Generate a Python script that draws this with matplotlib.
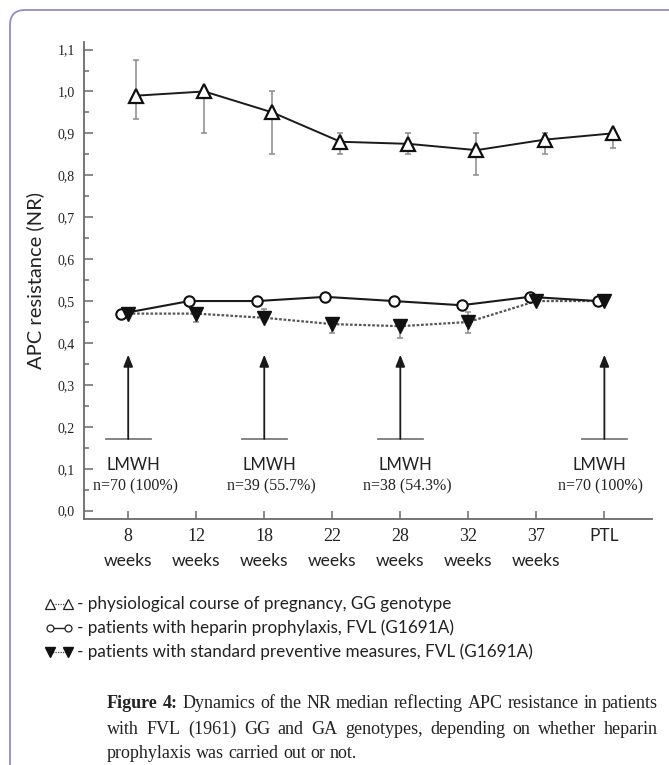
import matplotlib
matplotlib.use('Agg')
import matplotlib.pyplot as plt
from matplotlib.patches import FancyBboxPatch
from matplotlib.lines import Line2D
from matplotlib.ticker import MultipleLocator, FuncFormatter
import matplotlib.transforms as mtransforms

# ---------------- data ----------------
categories = ['8', '12', '18', '22', '28', '32', '37', 'PTL']
week_labels = ['weeks', 'weeks', 'weeks', 'weeks', 'weeks', 'weeks', 'weeks', '']

physio = [0.99, 1.00, 0.95, 0.88, 0.875, 0.86, 0.885, 0.90]
physio_lo = [0.935, 0.90, 0.85, 0.85, 0.85, 0.80, 0.85, 0.865]
physio_hi = [1.075, 1.00, 1.00, 0.90, 0.90, 0.90, 0.90, 0.90]

heparin = [0.47, 0.50, 0.50, 0.51, 0.50, 0.49, 0.51, 0.50]

standard = [0.47, 0.47, 0.46, 0.445, 0.44, 0.45, 0.50, 0.50]
standard_lo = [0.47, 0.45, 0.46, 0.423, 0.411, 0.423, 0.50, 0.50]
standard_hi = [0.47, 0.47, 0.48, 0.445, 0.44, 0.475, 0.50, 0.50]

lmwh_index = [0, 2, 4, 7]
lmwh_label = 'LMWH'
lmwh_counts = ['n=70 (100%)', 'n=39 (55.7%)', 'n=38 (54.3%)', 'n=70 (100%)']
arrow_base = 0.171
arrow_tip = 0.372

legend_texts = ['- physiological course of pregnancy, GG genotype',
                '- patients with heparin prophylaxis, FVL (G1691A)',
                '- patients with standard preventive measures, FVL (G1691A)']
caption_lines = [
    [('Figure', True), ('4:', True), ('Dynamics', False), ('of', False), ('the', False), ('NR', False),
     ('median', False), ('reflecting', False), ('APC', False), ('resistance', False), ('in', False),
     ('patients', False)],
    [('with', False), ('FVL', False), ('(1961)', False), ('GG', False), ('and', False), ('GA', False),
     ('genotypes,', False), ('depending', False), ('on', False), ('whether', False), ('heparin', False)],
    [('prophylaxis', False), ('was', False), ('carried', False), ('out', False), ('or', False), ('not.', False)],
]

SANS = ['Lato', 'DejaVu Sans']
SERIF = ['Liberation Serif', 'DejaVu Serif']

W, H = 669, 765
fig = plt.figure(figsize=(W / 100, H / 100), dpi=100)
fig.patch.set_facecolor('white')

def fx(px):
    return px / W

def fy(py):
    return 1 - py / H

ax_left, ax_right, ax_top, ax_bottom = 84, 652, 42, 519
ax = fig.add_axes([fx(ax_left), fy(ax_bottom), (ax_right - ax_left) / W, (ax_bottom - ax_top) / H])

x = list(range(len(categories)))
off_up = 0.12
off_circ = -0.10

# error bars physio
xp = [i + off_up for i in x]
ax.errorbar(xp, physio, yerr=[[v - l for v, l in zip(physio, physio_lo)],
                              [h - v for v, h in zip(physio, physio_hi)]],
            fmt='none', ecolor='#8a8a8a', elinewidth=1.1, capsize=2.3, capthick=1.1, zorder=2)
ax.plot(xp, physio, color='#1a1a1a', lw=1.4, marker='^', ms=10.5, mfc='white', mec='#111', mew=1.6, zorder=4)

# standard series
idx = [i for i in x if standard_lo[i] < standard[i] or standard_hi[i] > standard[i]]
ax.errorbar([x[i] for i in idx], [standard[i] for i in idx],
            yerr=[[standard[i] - standard_lo[i] for i in idx], [standard_hi[i] - standard[i] for i in idx]],
            fmt='none', ecolor='#8a8a8a', elinewidth=1.1, capsize=2.3, capthick=1.1, zorder=2)
ax.plot(x, standard, color='#555555', lw=1.6, ls=(0, (1.2, 0.8)), zorder=3)
ax.plot(x, standard, ls='none', marker='v', ms=10, mfc='#111', mec='#111', zorder=5)

# heparin series
xc = [i + off_circ for i in x]
ax.plot(xc, heparin, color='#1a1a1a', lw=1.5, marker='o', ms=7.5, mfc='white', mec='#111', mew=1.5, zorder=4)

# arrows + LMWH
for k, i in enumerate(lmwh_index):
    ax.plot([i - 0.33, i + 0.33], [arrow_base, arrow_base], color='#7a7a7a', lw=1.3, zorder=2)
    ax.annotate('', xy=(i, arrow_tip), xytext=(i, arrow_base),
                arrowprops=dict(arrowstyle='-|>,head_length=0.7,head_width=0.28', color='#1a1a1a', lw=1.3,
                                shrinkA=0, shrinkB=0))
    ax.text(i + 0.08 if k < 3 else i - 0.08, 0.11, lmwh_label, ha='center', va='center',
            family=SANS, fontsize=12, color='#222')
    ax.text(i + 0.1 if k < 3 else i - 0.05, 0.058, lmwh_counts[k], ha='center', va='center',
            family=SERIF, fontsize=11.5, color='#222')

ax.set_xlim(-0.65, 7.7)
ax.set_ylim(-0.02, 1.118)
for s in ['top', 'right']:
    ax.spines[s].set_visible(False)
for s in ['left', 'bottom']:
    ax.spines[s].set_color('#6a6a6a')
    ax.spines[s].set_linewidth(1.3)

ax.yaxis.set_major_locator(MultipleLocator(0.1))
ax.yaxis.set_minor_locator(MultipleLocator(0.05))
ax.yaxis.set_major_formatter(FuncFormatter(lambda v, p: f'{v:.1f}'.replace('.', ',')))
ax.tick_params(axis='y', which='major', direction='in', length=6.5, width=1.1, color='#6a6a6a',
               pad=6.5, labelsize=10)
ax.tick_params(axis='y', which='minor', direction='in', length=3.6, width=1.1, color='#6a6a6a')
for lab in ax.get_yticklabels():
    lab.set_family(SERIF)
    lab.set_color('#222')

ax.set_xticks(x)
ax.set_xticklabels(categories)
ax.tick_params(axis='x', direction='in', length=6, width=1.1, color='#6a6a6a', pad=6.5, labelsize=13)
for lab, c in zip(ax.get_xticklabels(), categories):
    lab.set_family(SANS if c == 'PTL' else SERIF)
    lab.set_color('#222')
    if c == 'PTL':
        lab.set_fontsize(12.5)

trans = mtransforms.blended_transform_factory(ax.transData, fig.transFigure)
for i, w in zip(x, week_labels):
    if w:
        ax.text(i, fy(561), w, transform=trans, ha='center', va='center', family=SANS, fontsize=12.5,
                color='#222')

ax.set_ylabel('APC resistance (NR)', family=SANS, fontsize=14.5, color='#222')
ax.yaxis.set_label_coords((35 - ax_left) / (ax_right - ax_left), 0.5)
ax.yaxis.label.set_va('center')

# legend rows
leg_y = [604, 628, 652]
sym_x0, sym_x1 = 50, 68
fig.add_artist(Line2D([fx(sym_x0), fx(sym_x1)], [fy(leg_y[0])] * 2, color='#444', lw=0.9, ls=(0, (1, 1)),
                      marker='^', ms=6.5, mfc='white', mec='#222', mew=0.9))
fig.add_artist(Line2D([fx(sym_x0), fx(sym_x1)], [fy(leg_y[1])] * 2, color='#222', lw=1.0,
                      marker='o', ms=5, mfc='white', mec='#222', mew=0.9))
fig.add_artist(Line2D([fx(sym_x0), fx(sym_x1)], [fy(leg_y[2])] * 2, color='#444', lw=0.9, ls=(0, (1, 1)),
                      marker='v', ms=6.5, mfc='#111', mec='#111'))
for yy, t in zip(leg_y, legend_texts):
    fig.text(fx(77), fy(yy), t, ha='left', va='center', family=SANS, fontsize=12.3, color='#222')

# caption (justified)
cap_x0, cap_x1 = 107, 658
cap_y = [703, 729, 754]
cap_fs = 13
renderer = fig.canvas.get_renderer()
for li, (words, yy) in enumerate(zip(caption_lines, cap_y)):
    texts = []
    for w, b in words:
        t = fig.text(0, fy(yy), w, ha='left', va='center', family=SERIF, fontsize=cap_fs,
                     weight='bold' if b else 'normal', color='#222')
        texts.append(t)
    widths = [t.get_window_extent(renderer).width for t in texts]
    total = sum(widths)
    if li < len(caption_lines) - 1:
        gap = (cap_x1 - cap_x0 - total) / (len(texts) - 1)
    else:
        gap = cap_fs * 1.389 * 0.25
    xx = cap_x0
    for t, wdt in zip(texts, widths):
        t.set_x(fx(xx))
        xx += wdt + gap

# frame
frame = FancyBboxPatch((0.10, -1.0), 7.5, 7.55 + 1.0, boxstyle='round,pad=0,rounding_size=0.15',
                       transform=fig.dpi_scale_trans, fill=False, edgecolor='#8e8ec4', lw=1.3)
fig.add_artist(frame)

fig.savefig('out.png', dpi=100)
